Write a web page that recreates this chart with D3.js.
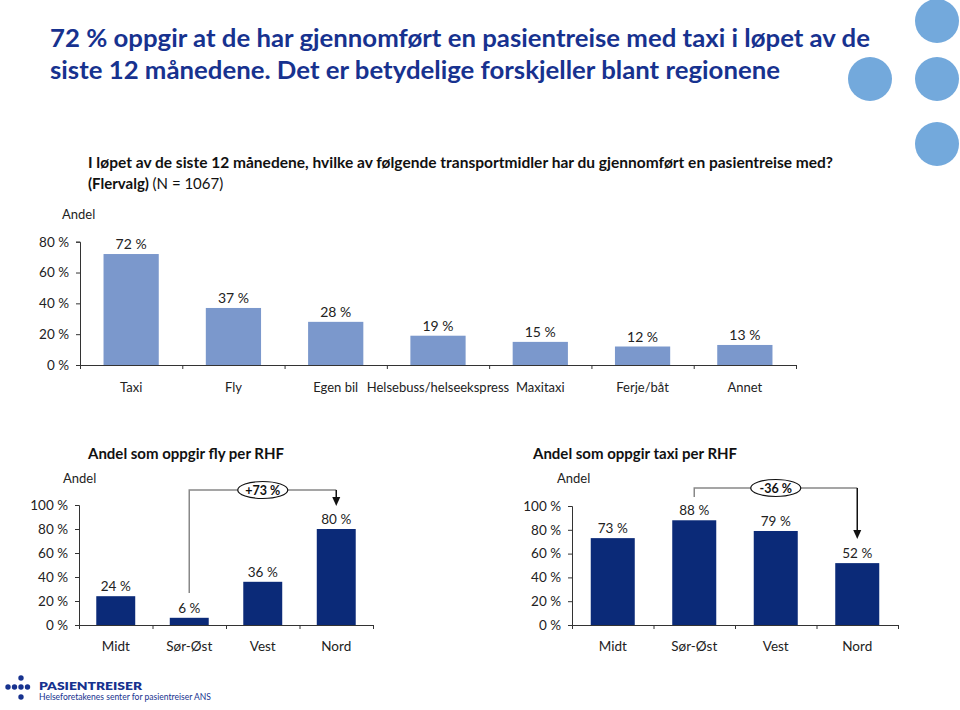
<!DOCTYPE html>
<html><head><meta charset="utf-8">
<script src="https://cdnjs.cloudflare.com/ajax/libs/d3/7.8.5/d3.min.js"></script>
<style>
body{margin:0;background:#fff;}
svg{display:block;font-family:Lato,"Open Sans",sans-serif;}
</style></head>
<body>
<script>
const titleLines = ["72 % oppgir at de har gjennomført en pasientreise med taxi i løpet av de",
                    "siste 12 månedene. Det er betydelige forskjeller blant regionene"];
const subtitle1 = "I løpet av de siste 12 månedene, hvilke av følgende transportmidler har du gjennomført en pasientreise med?";
const topCategories = ["Taxi","Fly","Egen bil","Helsebuss/helseekspress","Maxitaxi","Ferje/båt","Annet"];
const topValues = [72,37,28,19,15,12,13];
const topTicks = [0,20,40,60,80];
const regions = ["Midt","Sør-Øst","Vest","Nord"];
const flyValues = [24,6,36,80];
const taxiValues = [73,88,79,52];
const regionTicks = [0,20,40,60,80,100];

const W=960,H=710;
const svg=d3.select("body").append("svg").attr("width",W).attr("height",H);
const navy="#17328f";

// decorative circles
const circ=[[937,21],[870,79],[937,79],[937,144]];
svg.selectAll("circle.deco").data(circ).join("circle")
  .attr("cx",d=>d[0]).attr("cy",d=>d[1]).attr("r",22).attr("fill","#73a9dc");

// title
svg.append("text").attr("x",50).attr("y",47).attr("fill",navy).attr("font-size",25).attr("font-weight",700)
  .attr("textLength",820).attr("lengthAdjust","spacingAndGlyphs").text(titleLines[0]);
svg.append("text").attr("x",50).attr("y",79).attr("fill",navy).attr("font-size",25).attr("font-weight",700)
  .attr("textLength",730).attr("lengthAdjust","spacingAndGlyphs").text(titleLines[1]);

svg.append("text").attr("x",88).attr("y",168).attr("font-size",15).attr("font-weight",700).attr("fill","#111")
  .attr("textLength",745).attr("lengthAdjust","spacingAndGlyphs").text(subtitle1);
const s2=svg.append("text").attr("x",88).attr("y",189).attr("font-size",15).attr("fill","#111");
s2.append("tspan").attr("font-weight",700).text("(Flervalg) ");
s2.append("tspan").text("(N = 1067)");

function barChart(opts){
  const g=svg.append("g");
  const y=d3.scaleLinear().domain([0,d3.max(opts.ticks)]).range([opts.y0,opts.y1]);
  const x=d3.scaleBand().domain(opts.cats).range([opts.x0,opts.x1]).paddingInner(opts.pad).paddingOuter(opts.pad/2);
  // y axis
  const ya=g.append("g").attr("transform",`translate(${opts.x0},0)`)
    .call(d3.axisLeft(y).tickValues(opts.ticks).tickSize(4).tickPadding(7).tickFormat(d=>d+" %"));
  ya.selectAll("text").attr("font-size",opts.tickFont).attr("fill","#222").attr("font-family","Lato,sans-serif");
  ya.selectAll("path,line").attr("stroke","#333");
  // bars
  g.selectAll("rect").data(opts.vals).join("rect")
    .attr("x",(d,i)=>x(opts.cats[i])).attr("width",x.bandwidth())
    .attr("y",d=>y(d)).attr("height",d=>opts.y0-y(d)).attr("fill",opts.color);
  // x axis
  const xl=d3.scaleLinear().domain([0,opts.cats.length]).range([opts.x0,opts.x1]);
  const xa=g.append("g").attr("transform",`translate(0,${opts.y0})`)
    .call(d3.axisBottom(xl).tickValues(d3.range(opts.cats.length+1)).tickSize(4).tickSizeOuter(4).tickFormat(""));
  xa.selectAll("path,line").attr("stroke","#333");
  // category labels
  g.selectAll("text.cat").data(opts.cats).join("text").attr("class","cat")
    .attr("x",d=>x(d)+x.bandwidth()/2).attr("y",opts.catY).attr("text-anchor","middle")
    .attr("font-size",opts.catFont).attr("fill","#222").text(d=>d);
  // value labels
  g.selectAll("text.val").data(opts.vals).join("text").attr("class","val")
    .attr("x",(d,i)=>x(opts.cats[i])+x.bandwidth()/2).attr("y",d=>y(d)-5).attr("text-anchor","middle")
    .attr("font-size",opts.valFont).attr("fill","#222").text(d=>d+" %");
  return {x,y};
}

// top chart
svg.append("text").attr("x",62).attr("y",219).attr("font-size",13).attr("fill","#222").text("Andel");
barChart({cats:topCategories,vals:topValues,ticks:topTicks,x0:80,x1:796,y0:365,y1:241.7,pad:0.46,
  color:"#7b98cc",tickFont:13.5,catFont:13,valFont:14,catY:392});

// bottom left
svg.append("text").attr("x",88).attr("y",459).attr("font-size",15).attr("font-weight",700).attr("fill","#111").text("Andel som oppgir fly per RHF");
svg.append("text").attr("x",63).attr("y",483).attr("font-size",13).attr("fill","#222").text("Andel");
const L=barChart({cats:regions,vals:flyValues,ticks:regionTicks,x0:79,x1:373,y0:625,y1:505,pad:0.47,
  color:"#0b2a78",tickFont:13.5,catFont:13.5,valFont:13.5,catY:651});

// bottom right
svg.append("text").attr("x",533).attr("y",459).attr("font-size",15).attr("font-weight",700).attr("fill","#111").text("Andel som oppgir taxi per RHF");
svg.append("text").attr("x",557).attr("y",483).attr("font-size",13).attr("fill","#222").text("Andel");
const R=barChart({cats:regions,vals:taxiValues,ticks:regionTicks,x0:572,x1:898,y0:625,y1:506,pad:0.46,
  color:"#0b2a78",tickFont:13.5,catFont:13.5,valFont:13.5,catY:651});

function annot(sc,from,to,yTop,yStart,yEnd,label){
  const xa=sc.x(from)+sc.x.bandwidth()/2, xb=sc.x(to)+sc.x.bandwidth()/2;
  svg.append("path").attr("d",`M${xa},${yStart} V${yTop} H${xb}`).attr("fill","none").attr("stroke","#888").attr("stroke-width",1.5);
  svg.append("line").attr("x1",xb).attr("x2",xb).attr("y1",yTop).attr("y2",yEnd-8)
    .attr("stroke","#111").attr("stroke-width",1.5);
  svg.append("path").attr("d",`M${xb-4},${yEnd-9} L${xb+4},${yEnd-9} L${xb},${yEnd} Z`).attr("fill","#111");
  const cx=(xa+xb)/2;
  svg.append("ellipse").attr("cx",cx).attr("cy",yTop).attr("rx",25).attr("ry",8.5).attr("fill","#fff").attr("stroke","#111").attr("stroke-width",1.2);
  svg.append("text").attr("x",cx).attr("y",yTop+4.5).attr("text-anchor","middle").attr("font-size",12.5).attr("font-weight",700).attr("fill","#111").text(label);
}
annot(L,"Sør-Øst","Nord",490,593,506,"+73 %");
annot(R,"Sør-Øst","Nord",488,497,539,"-36 %");

// logo
svg.selectAll("circle.logo").data([[21,678],[8,687],[14.5,687],[21,687],[27.5,687],[21,697]]).join("circle")
  .attr("cx",d=>d[0]).attr("cy",d=>d[1]).attr("r",2.7).attr("fill",navy);
svg.append("text").attr("x",39).attr("y",690).attr("font-size",11.5).attr("font-weight",800).attr("fill",navy)
  .attr("textLength",103).attr("lengthAdjust","spacingAndGlyphs").text("PASIENTREISER");
svg.append("text").attr("x",39).attr("y",700).attr("font-size",8.5).attr("fill",navy)
  .attr("textLength",172).attr("lengthAdjust","spacingAndGlyphs").text("Helseforetakenes senter for pasientreiser ANS");
</script>
</body></html>
